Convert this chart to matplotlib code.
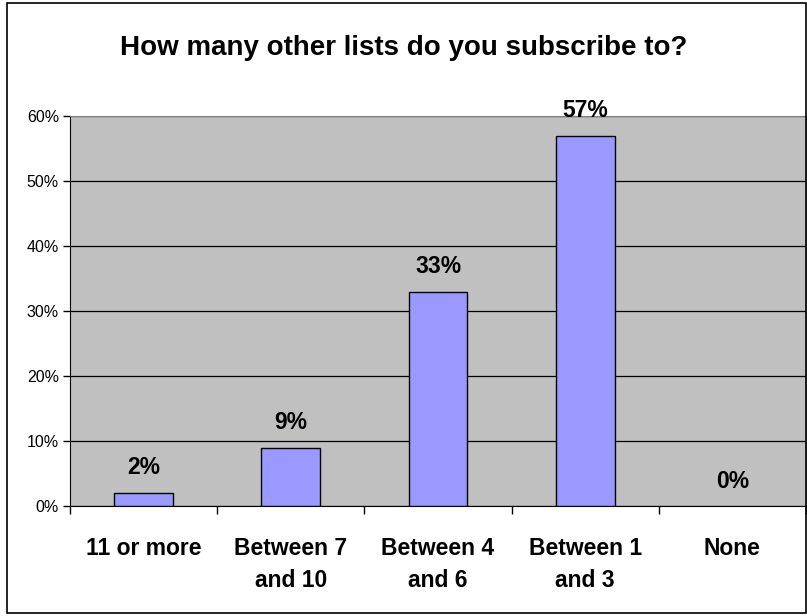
import matplotlib.pyplot as plt
from matplotlib.patches import Rectangle
from matplotlib.ticker import PercentFormatter

# survey answers, values in percent
categories = ["11 or more", "Between 7\nand 10", "Between 4\nand 6", "Between 1\nand 3", "None"]
shares = [2, 9, 33, 57, 0]
y_ticks = [0, 10, 20, 30, 40, 50, 60]

plt.rcParams['font.family'] = ['Liberation Sans', 'DejaVu Sans']

fig = plt.figure(figsize=(8.07, 6.16), dpi=100)
# outer chart border
fig.patches.append(Rectangle((0.009, 0.005), 0.99, 0.99, transform=fig.transFigure,
                             fill=False, edgecolor='black', linewidth=1.2))

ax = fig.add_axes([70 / 807, 1 - 506 / 616, 736 / 807, 390 / 616])
ax.set_facecolor('#c0c0c0')

x = list(range(len(categories)))
bars = ax.bar(x, shares, width=0.4, color='#9999ff', edgecolor='black', linewidth=1, zorder=3)

for rect, v in zip(bars, shares):
    if v == 0:
        rect.set_linewidth(0)
    ax.annotate(f'{v}%', (rect.get_x() + rect.get_width() / 2, rect.get_height()),
                xytext=(0, 18), textcoords='offset points', ha='center', va='center',
                fontsize=16.5, fontweight='bold')

ax.set_xlim(-0.5, len(categories) - 0.5)
ax.set_ylim(0, 60)
ax.set_yticks(y_ticks)
ax.yaxis.set_major_formatter(PercentFormatter(decimals=0))
ax.grid(axis='y', color='black', linewidth=0.9, zorder=1)
ax.set_axisbelow(True)

# category ticks at boundaries, labels in the middle
ax.set_xticks([i - 0.5 for i in range(len(categories) + 1)])
ax.set_xticklabels([])
ax.set_xticks(x, minor=True)
ax.set_xticklabels(categories, minor=True, fontsize=16.5, fontweight='bold', linespacing=1.55)
ax.tick_params(axis='x', which='minor', length=0, pad=22)
ax.tick_params(axis='x', which='major', length=6, width=1, direction='out')
ax.tick_params(axis='y', length=5, width=1, labelsize=11.5, pad=3)

for side in ['top', 'right']:
    ax.spines[side].set_color('#808080')
ax.spines['left'].set_color('black')
ax.spines['bottom'].set_color('black')

fig.text(0.5, 1 - 48 / 616, 'How many other lists do you subscribe to?',
         ha='center', va='center', fontsize=20, fontweight='bold')

fig.savefig('out.png', dpi=100)
